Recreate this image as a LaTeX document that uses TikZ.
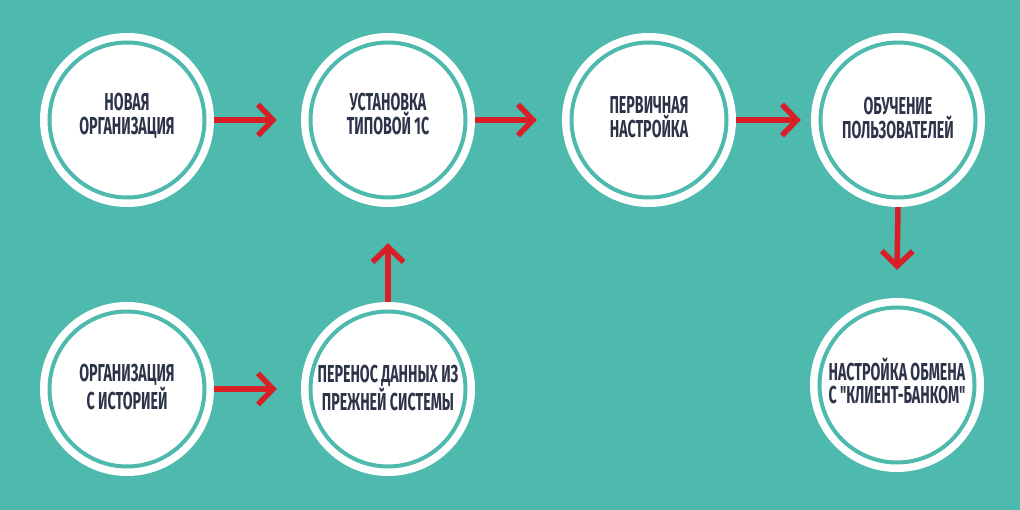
\documentclass[tikz,border=0pt]{standalone}
\usepackage{fontspec}
\newfontfamily\lbl[FakeStretch=0.58]{Fira Sans}
\usetikzlibrary{arrows.meta}
\definecolor{bg}{HTML}{4EB9AD}
\definecolor{arr}{HTML}{D91F26}
\definecolor{txt}{HTML}{2D3349}
\tikzset{
  stage/.style={circle, fill=white, draw=none, minimum size=174pt, inner sep=0pt,
    path picture={\draw[bg, line width=4pt] (path picture bounding box.center) circle (77.5pt);}},
  lab/.style={text=txt, align=center, font=\lbl\bfseries\fontsize{24.5}{23.5}\selectfont, inner sep=0pt},
  flow/.style={draw=arr, line width=5.5pt, -{Straight Barb[length=15pt,width=31pt]}}
}
\begin{document}
\begin{tikzpicture}[x=1pt,y=-1pt]
\fill[bg] (0,0) rectangle (1020,510);
\useasboundingbox (0,0) rectangle (1020,510);
\node[stage] (A) at (127,120) {};
\node[stage] (B) at (388,120) {};
\node[stage] (C) at (649,120) {};
\node[stage] (D) at (898,120) {};
\node[stage] (E) at (127,389) {};
\node[stage] (F) at (388,389) {};
\node[stage] (G) at (897,385) {};
\node[lab] (tA) at (127,116) {НОВАЯ\\ОРГАНИЗАЦИЯ};
\node[lab] (tB) at (388,114) {УСТАНОВКА\\ТИПОВОЙ 1С};
\node[lab] (tC) at (649,117) {ПЕРВИЧНАЯ\\НАСТРОЙКА};
\node[lab] (tD) at (898,118) {ОБУЧЕНИЕ\\ПОЛЬЗОВАТЕЛЕЙ};
\node[lab] (tE) at (127,387) {ОРГАНИЗАЦИЯ\\С ИСТОРИЕЙ};
\node[lab] (tF) at (388,388) {ПЕРЕНОС ДАННЫХ ИЗ\\ПРЕЖНЕЙ СИСТЕМЫ};
\node[lab] (tG) at (897,381) {НАСТРОЙКА ОБМЕНА\\С "КЛИЕНТ-БАНКОМ"};
\draw[flow] (A.east) -- ([xshift=-24pt]B.west);
\draw[flow] (B.east) -- ([xshift=-25pt]C.west);
\draw[flow] (C.east) -- ([xshift=-10pt]D.west);
\draw[flow] (E.east) -- ([xshift=-24pt]F.west);
\draw[flow] (F.north) -- ([yshift=-36pt]B.south);
\draw[flow] (D.south) -- ([yshift=28pt]G.north);
\end{tikzpicture}
\end{document}
